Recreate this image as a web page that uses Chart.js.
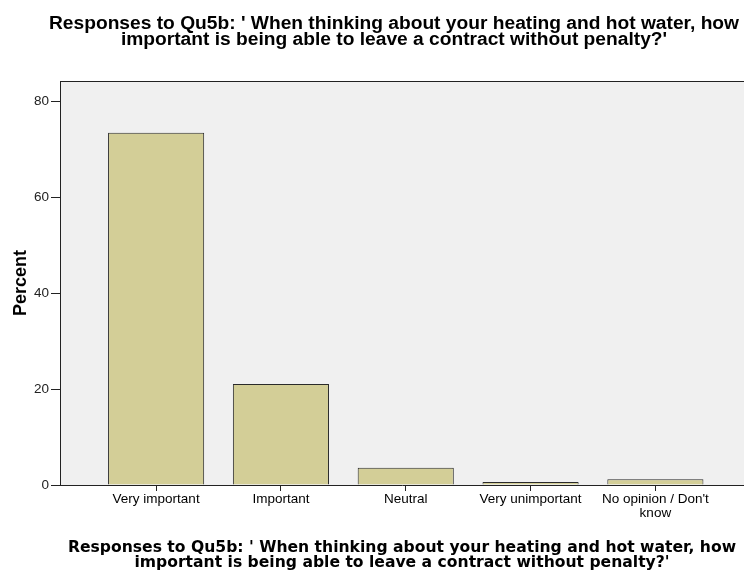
<!DOCTYPE html>
<html>
<head>
<meta charset="utf-8">
<title>Qu5b responses</title>
<script src="https://cdn.jsdelivr.net/npm/chart.js@4.4.0/dist/chart.umd.min.js"></script>
<style>
  html, body { margin: 0; padding: 0; background: #fff; }
  #wrap { width: 744px; height: 573px; overflow: hidden; }
</style>
</head>
<body>
<div id="wrap"><canvas id="chart" width="744" height="573"></canvas></div>
<script>
// data
const categories = ['Very important', 'Important', 'Neutral', 'Very unimportant', ["No opinion / Don't", 'know']];
const percents = [73.5, 21.1, 3.6, 0.6, 1.2];
const yTicks = [0, 20, 40, 60, 80];
const titleLines = [
    "Responses to Qu5b: ' When thinking about your heating and hot water, how",
    "important is being able to leave a contract without penalty?'"
];

const FONT = '"Liberation Sans", Arial, sans-serif';
const WIDE_FONT = '"DejaVu Sans", Verdana, sans-serif';

// grey plot background + top frame line
const plotFrame = {
    id: 'plotFrame',
    beforeDraw(chart) {
        const { ctx, chartArea: a } = chart;
        ctx.save();
        ctx.fillStyle = '#f0f0f0';
        ctx.fillRect(a.left, a.top, a.right - a.left, a.bottom - a.top);
        ctx.strokeStyle = '#222';
        ctx.lineWidth = 1;
        ctx.beginPath();
        ctx.moveTo(a.left, a.top + 0.5);
        ctx.lineTo(a.right, a.top + 0.5);
        ctx.stroke();
        ctx.restore();
    }
};

// heading above the plot (original is centred a bit right of the page middle)
const topTitle = {
    id: 'topTitle',
    afterDraw(chart) {
        const ctx = chart.ctx;
        ctx.save();
        ctx.font = 'bold 19.2px ' + FONT;
        ctx.fillStyle = '#000';
        ctx.textAlign = 'center';
        ctx.textBaseline = 'alphabetic';
        titleLines.forEach((line, i) => ctx.fillText(line, 394, 29 + i * 16));
        ctx.restore();
    }
};

new Chart(document.getElementById('chart'), {
    type: 'bar',
    data: {
        datasets: [{
            data: percents.map((v, i) => ({ x: i, y: v })),
            backgroundColor: '#d3ce97',
            borderColor: '#2a2a2a',
            borderWidth: 1,
            categoryPercentage: 1,
            barPercentage: 0.77
        }]
    },
    options: {
        responsive: false,
        animation: false,
        devicePixelRatio: 1,
        layout: { padding: { top: 81, left: 0, right: 0, bottom: 0 } },
        plugins: {
            legend: { display: false },
            tooltip: { enabled: false },
            title: { display: false }
        },
        scales: {
            x: {
                type: 'linear',
                min: -0.77,
                max: 4.71,
                offset: false,
                afterBuildTicks: s => { s.ticks = categories.map((c, i) => ({ value: i })); },
                afterFit: s => { s.height = 88; },
                ticks: {
                    autoSkip: false,
                    maxRotation: 0,
                    color: '#000',
                    padding: 1,
                    font: { family: FONT, size: 13.5, lineHeight: 1.05 },
                    callback: v => categories[v]
                },
                grid: { offset: false, drawOnChartArea: false, drawTicks: true, tickLength: 6, color: '#222' },
                border: { color: '#222', width: 1 },
                title: {
                    display: true,
                    text: titleLines,
                    color: '#000',
                    font: { family: WIDE_FONT, size: 15.6, weight: 'bold', lineHeight: 0.96 },
                    padding: { top: 0, bottom: 3 }
                }
            },
            y: {
                min: 0,
                max: 84.3,
                afterBuildTicks: s => { s.ticks = yTicks.map(v => ({ value: v })); },
                afterFit: s => { s.width = 60; },
                ticks: {
                    color: '#222',
                    padding: 2,
                    font: { family: FONT, size: 13.5 }
                },
                grid: { drawOnChartArea: false, drawTicks: true, tickLength: 9, color: '#222' },
                border: { color: '#222', width: 1 },
                title: {
                    display: true,
                    text: 'Percent',
                    color: '#000',
                    font: { family: FONT, size: 18, weight: 'bold' },
                    padding: { top: 10 }
                }
            }
        }
    },
    plugins: [plotFrame, topTitle]
});
</script>
</body>
</html>
